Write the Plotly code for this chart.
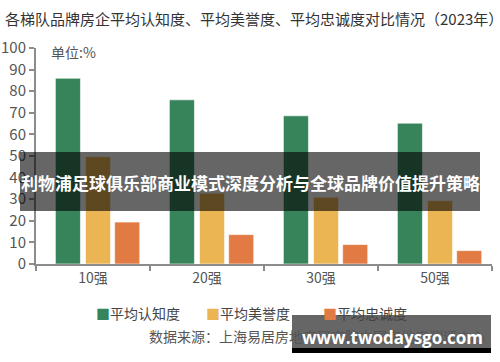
import plotly.graph_objects as go

categories = ["10强", "20强", "30强", "50强"]
awareness = [86.0, 76.0, 68.6, 65.2]
reputation = [49.7, 32.8, 30.9, 29.3]
loyalty = [19.4, 13.6, 9.0, 6.2]
series_names = ["平均认知度", "平均美誉度", "平均忠诚度"]
colors = ["#37845B", "#EBB553", "#E27A43"]
y_ticks = [0, 10, 20, 30, 40, 50, 60, 70, 80, 90, 100]

FONT = "Noto Sans CJK SC"
W, H = 500, 362
L, R, T, B = 36, 8, 48, 98
PW, PH = W - L - R, H - T - B


def px(x):
    return (x - L) / PW


def py(y):
    return (H - B - y) / PH


fig = go.Figure()
offsets = [-0.33, -0.066, 0.19]
for name, vals, col, off in zip(series_names, [awareness, reputation, loyalty], colors, offsets):
    fig.add_trace(go.Bar(
        x=categories, y=vals, name=name, showlegend=False,
        marker=dict(color=col, line=dict(color="rgba(255,255,255,0.6)", width=1)),
        width=0.22, offset=off,
    ))

fig.update_layout(
    width=W, height=H,
    margin=dict(l=L, r=R, t=T, b=B, autoexpand=False),
    paper_bgcolor="white", plot_bgcolor="white",
    font=dict(family=FONT, color="#555555", size=14),
    barmode="group",
    showlegend=False,
    title=dict(text="各梯队品牌房企平均认知度、平均美誉度、平均忠诚度对比情况（2023年）",
               x=0.01, xanchor="left", y=1 - 20 / H, yanchor="middle",
               font=dict(size=15, color="#333333", family=FONT)),
)

fig.update_yaxes(range=[0, 100], tickvals=y_ticks, showgrid=False, zeroline=False,
                 showline=True, linecolor="#8c8c8c", linewidth=2, automargin=False,
                 ticks="outside", ticklen=5, tickcolor="#8c8c8c", tickwidth=1.5,
                 tickfont=dict(size=15, color="#555555"))
fig.update_xaxes(showgrid=False, showline=True, linecolor="#8c8c8c", linewidth=2, automargin=False,
                 ticks="outside", tickson="boundaries", ticklen=5, tickcolor="#8c8c8c",
                 tickwidth=1.5, tickfont=dict(size=14, color="#555555"))

# legend (manual, to match spacing)
legend_x = [95, 205, 322]
for name, col, lx in zip(series_names, colors, legend_x):
    fig.add_annotation(text=f"<span style='color:{col}'>■</span>{name}", xref="paper", yref="paper",
                       x=px(lx), y=py(313), xanchor="left", yanchor="middle", showarrow=False,
                       font=dict(size=14, color="#444444"), borderpad=0)

# unit label
fig.add_annotation(text="单位:%", xref="paper", yref="paper", x=px(50),
                   y=py(52), xanchor="left", yanchor="middle", showarrow=False, borderpad=0,
                   font=dict(size=14, color="#555555"))

# source line
fig.add_annotation(text="数据来源：上海易居房地产研究院中国房地产测评中心", xref="paper", yref="paper",
                   x=px(148), y=py(336), xanchor="left", yanchor="middle", borderpad=0,
                   showarrow=False, font=dict(size=14, color="#555555"))

# overlay banner
fig.add_shape(type="rect", xref="paper", yref="paper",
              x0=px(20), x1=px(480), y0=py(211), y1=py(152),
              fillcolor="rgba(0,0,0,0.6)", line=dict(width=0), layer="above")
fig.add_annotation(text="<b>利物浦足球俱乐部商业模式深度分析与全球品牌价值提升策略</b>", xref="paper", yref="paper",
                   x=px(250), y=py(182), xanchor="center", yanchor="middle", borderpad=0,
                   showarrow=False, font=dict(size=17, color="white", family=FONT))

# watermark box
fig.add_shape(type="rect", xref="paper", yref="paper",
              x0=px(292), x1=px(491), y0=py(348), y1=py(315),
              fillcolor="rgba(0,0,0,0.6)", line=dict(width=0), layer="above")
fig.add_shape(type="rect", xref="paper", yref="paper",
              x0=px(292), x1=px(491), y0=py(353), y1=py(348),
              fillcolor="black", line=dict(width=0), layer="above")
fig.add_annotation(text="<b>www.twodaysgo.com</b>", xref="paper", yref="paper",
                   x=px(392), y=py(337), xanchor="center", yanchor="middle", borderpad=0,
                   showarrow=False, font=dict(size=17, color="white", family="Open Sans"))

fig.write_html("out.html")
